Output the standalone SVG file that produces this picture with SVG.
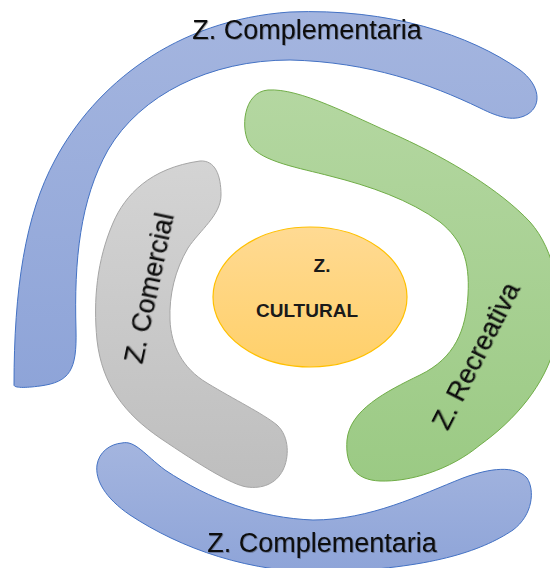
<svg xmlns="http://www.w3.org/2000/svg" width="550" height="568" viewBox="0 0 550 568">
<defs>
<linearGradient id="gBlue" x1="0" y1="0" x2="0" y2="1"><stop offset="0" stop-color="#A4B5DF"/><stop offset="1" stop-color="#8EA4D8"/></linearGradient>
<linearGradient id="gGreen" x1="0" y1="0" x2="0" y2="1"><stop offset="0" stop-color="#B4D7A1"/><stop offset="1" stop-color="#9BCA84"/></linearGradient>
<linearGradient id="gGray" x1="0" y1="0" x2="0" y2="1"><stop offset="0" stop-color="#D4D4D4"/><stop offset="1" stop-color="#BEBEBE"/></linearGradient>
<linearGradient id="gOrange" x1="0" y1="0" x2="0" y2="1"><stop offset="0" stop-color="#FFDA93"/><stop offset="1" stop-color="#FFD06A"/></linearGradient>
<filter id="sh" x="-10%" y="-30%" width="120%" height="160%"><feDropShadow dx="0.8" dy="0.8" stdDeviation="0.6" flood-color="#000" flood-opacity="0.35"/></filter>
</defs>
<style>
.blue{fill:url(#gBlue);stroke:#4472C4;stroke-width:1}
.green{fill:url(#gGreen);stroke:#70AD47;stroke-width:1}
.gray{fill:url(#gGray);stroke:#A5A5A5;stroke-width:1}
.orange{fill:url(#gOrange);stroke:#FFC000;stroke-width:1.2}
.lbl{font-family:"Liberation Sans",Arial,sans-serif;font-size:27px;fill:#0d0d0d;text-anchor:middle;filter:url(#sh)}
.cl{font-family:"Liberation Sans",Arial,sans-serif;font-size:19px;font-weight:bold;fill:#1a1a1a;text-anchor:middle}
</style>
<rect width="550" height="568" fill="#FFFFFF"/>
<g id="comp-top">
<path class="blue" d="M 14,385 C 14,290 25,215 55,160 C 95,85 175,20 290,12 C 390,8 470,35 520,70 C 540,85 542,105 528,114 C 515,122 500,118 480,108 C 430,84 370,62 290,60 C 210,60 140,95 108,150 C 80,200 74,260 76,330 C 77,370 70,382 40,386 C 25,388 14,388 14,385 Z"/>
<text class="lbl" x="307" y="39">Z. Complementaria</text>
</g>
<g id="comp-bottom">
<path class="blue" d="M 122,443 C 135,440 145,455 165,470 C 210,500 260,518 313,520 C 370,520 420,495 463,478 C 490,468 515,465 527,478 C 535,490 533,515 513,530 C 480,552 430,568 330,572 C 250,574 180,548 130,515 C 105,498 95,480 97,465 C 99,452 110,444 122,443 Z"/>
<text class="lbl" x="322" y="552">Z. Complementaria</text>
</g>
<g id="recreativa">
<path class="green" d="M 268,90 C 300,88 350,115 400,137 C 450,160 500,190 530,222 C 555,250 565,300 555,345 C 545,385 515,420 480,445 C 450,470 410,482 380,481 C 355,480 345,465 347,440 C 350,410 385,392 420,375 C 455,358 466,330 468,295 C 470,260 462,240 440,222 C 410,200 370,186 330,176 C 300,168 262,162 250,145 C 240,130 243,92 268,90 Z"/>
<text class="lbl" transform="translate(484,360) rotate(-63)">Z. Recreativa</text>
</g>
<g id="comercial">
<path class="gray" d="M 200,161 C 215,160 221,175 221,195 C 221,215 200,230 188,248 C 175,270 169,295 170,320 C 171,345 182,368 207,383 C 235,400 262,413 277,425 C 290,437 289,458 283,470 C 276,484 262,489 247,487 C 232,485 200,465 160,438 C 125,414 102,385 97,340 C 93,300 97,260 113,223 C 125,195 150,168 200,161 Z"/>
<text class="lbl" transform="translate(158,290) rotate(-78)">Z. Comercial</text>
</g>
<g id="cultural">
<ellipse class="orange" cx="310" cy="297" rx="97" ry="70"/>
<text class="cl" x="322" y="272">Z.</text>
<text class="cl" x="307" y="317">CULTURAL</text>
</g>
<g id="connectors"/>
</svg>
